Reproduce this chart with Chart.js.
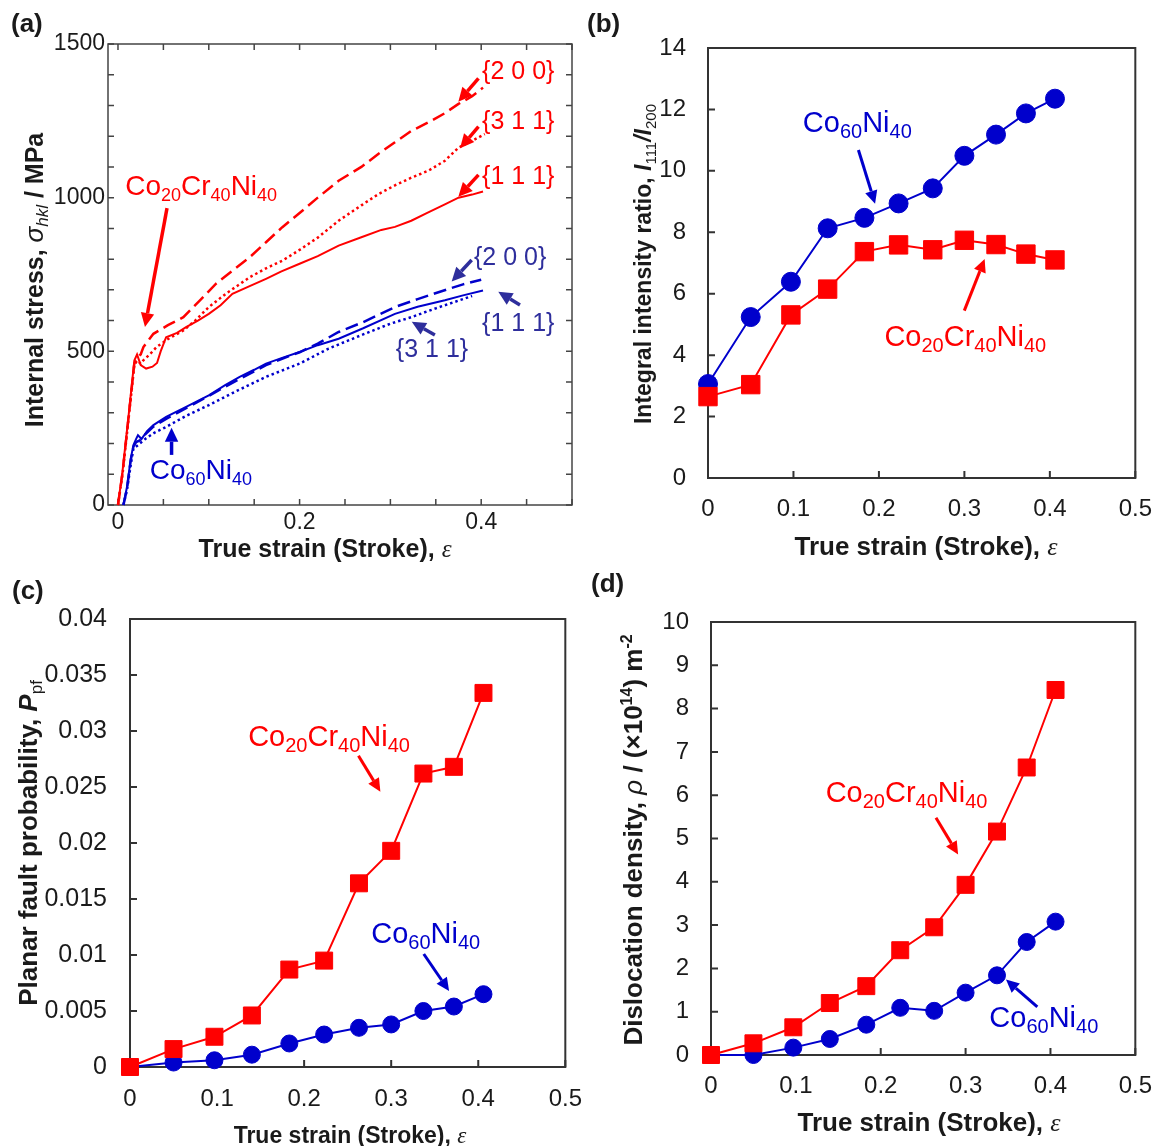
<!DOCTYPE html>
<html>
<head>
<meta charset="utf-8">
<script src="https://cdn.jsdelivr.net/npm/chart.js@4.4.1/dist/chart.umd.min.js"></script>
<style>
  body { margin: 0; background: #fff; }
  #page { position: relative; width: 1169px; height: 1146px; overflow: hidden; background: #fff; }
  .panel { position: absolute; }
</style>
</head>
<body>
<div id="page">
  <div class="panel" style="left:0;top:0"><canvas id="chartA" width="590" height="570"></canvas></div>
  <div class="panel" style="left:580px;top:0"><canvas id="chartB" width="589" height="570"></canvas></div>
  <div class="panel" style="left:0;top:570px"><canvas id="chartC" width="600" height="576"></canvas></div>
  <div class="panel" style="left:580px;top:570px"><canvas id="chartD" width="589" height="576"></canvas></div>
</div>
<script>
// ---- (a) internal stress vs strain ----
const strainCrNi200 = [0, 0.005, 0.012, 0.018, 0.021, 0.025, 0.028, 0.039, 0.055, 0.072, 0.09, 0.108, 0.125, 0.145, 0.163, 0.181, 0.2, 0.22, 0.243, 0.268, 0.287, 0.305, 0.323, 0.345, 0.36, 0.375, 0.39, 0.402];
const stressCrNi200 = [0, 105, 295, 460, 480, 490, 514, 557, 585, 611, 665, 720, 760, 806, 855, 904, 950, 1000, 1055, 1100, 1143, 1180, 1217, 1250, 1275, 1305, 1330, 1358];
const strainCrNi311 = [0, 0.005, 0.012, 0.018, 0.021, 0.025, 0.028, 0.035, 0.0425, 0.055, 0.072, 0.085, 0.1, 0.12, 0.145, 0.163, 0.181, 0.2, 0.22, 0.243, 0.268, 0.287, 0.305, 0.323, 0.342, 0.36, 0.375, 0.39, 0.404];
const stressCrNi311 = [0, 100, 290, 455, 470, 460, 471, 490, 514, 540, 568, 600, 644, 690, 741, 770, 795, 830, 870, 925, 975, 1012, 1040, 1065, 1088, 1120, 1163, 1185, 1207];
const strainCrNi111 = [0, 0.005, 0.012, 0.018, 0.021, 0.025, 0.031, 0.038, 0.043, 0.047, 0.053, 0.065, 0.075, 0.088, 0.1, 0.113, 0.126, 0.145, 0.163, 0.18, 0.2, 0.22, 0.243, 0.268, 0.29, 0.305, 0.323, 0.34, 0.36, 0.375, 0.39, 0.402];
const stressCrNi111 = [0, 110, 300, 470, 490, 455, 444, 450, 462, 500, 546, 560, 579, 600, 622, 650, 687, 712, 736, 760, 785, 810, 844, 871, 895, 905, 925, 950, 978, 1000, 1010, 1020];
const strainNi200 = [0.006, 0.01, 0.014, 0.017, 0.02, 0.024, 0.03, 0.039, 0.053, 0.075, 0.1, 0.118, 0.134, 0.15, 0.163, 0.18, 0.2, 0.22, 0.243, 0.27, 0.305, 0.33, 0.364, 0.38, 0.4];
const stressNi200 = [0, 55, 145, 190, 205, 210, 230, 255, 280, 315, 355, 385, 410, 435, 455, 475, 497, 525, 563, 595, 644, 670, 703, 718, 733];
const strainNi111 = [0.006, 0.01, 0.014, 0.017, 0.02, 0.022, 0.026, 0.032, 0.039, 0.053, 0.075, 0.1, 0.118, 0.134, 0.15, 0.163, 0.18, 0.2, 0.22, 0.243, 0.27, 0.305, 0.33, 0.36, 0.38, 0.402];
const stressNi111 = [0, 60, 150, 195, 215, 227, 215, 240, 260, 287, 319, 357, 390, 417, 440, 460, 478, 498, 520, 541, 575, 622, 645, 666, 682, 698];
const strainNi311 = [0.006, 0.01, 0.014, 0.017, 0.022, 0.03, 0.04, 0.053, 0.075, 0.1, 0.13, 0.163, 0.2, 0.232, 0.27, 0.3, 0.323, 0.35, 0.375, 0.39];
const stressNi311 = [0, 50, 130, 184, 195, 215, 235, 254, 290, 325, 370, 417, 460, 509, 555, 590, 611, 640, 665, 680];

// ---- (b)-(d) measured points ----
const strain = [0, 0.05, 0.097, 0.14, 0.183, 0.223, 0.263, 0.3, 0.337, 0.372, 0.406];
const ratioCoNi = [3.06, 5.24, 6.39, 8.13, 8.47, 8.94, 9.43, 10.49, 11.18, 11.87, 12.35];
const ratioCoCrNi = [2.65, 3.04, 5.31, 6.15, 7.37, 7.59, 7.43, 7.74, 7.6, 7.29, 7.1];
const faultCoNi = [0, 0.0004, 0.0006, 0.0011, 0.0021, 0.0029, 0.0035, 0.0038, 0.005, 0.0054, 0.0065];
const faultCoCrNi = [0, 0.0016, 0.0027, 0.0046, 0.0087, 0.0095, 0.0164, 0.0193, 0.0262, 0.0268, 0.0334];
const densCoNi = [0, 0, 0.17, 0.37, 0.7, 1.09, 1.02, 1.44, 1.84, 2.61, 3.08];
const densCoCrNi = [0, 0.27, 0.64, 1.2, 1.59, 2.42, 2.95, 3.93, 5.16, 6.64, 8.43];

// ---- ticks ----
const ticksA_x = [0, 0.05, 0.1, 0.15, 0.2, 0.25, 0.3, 0.35, 0.4, 0.45, 0.5];
const labelsA_x = [0, 0.2, 0.4];
const ticksA_y = [0, 100, 200, 300, 400, 500, 600, 700, 800, 900, 1000, 1100, 1200, 1300, 1400, 1500];
const labelsA_y = [0, 500, 1000, 1500];
const ticksStrain = [0, 0.1, 0.2, 0.3, 0.4, 0.5];
const ticksRatio = [0, 2, 4, 6, 8, 10, 12, 14];
const ticksFault = [0, 0.005, 0.01, 0.015, 0.02, 0.025, 0.03, 0.035, 0.04];
const ticksDens = [0, 1, 2, 3, 4, 5, 6, 7, 8, 9, 10];

const FONT = '"Liberation Sans", Arial, Helvetica, sans-serif';
const SERIF = '"Liberation Serif", "Times New Roman", serif';
const RED = '#ff0000';
const BLUE = '#0000cc';
const NAVY = '#2e2e9c';
const INK = '#1a1a1a';

// text made of pieces with their own font and baseline shift
function drawRich(ctx, parts, x, y, color, align, rot) {
  ctx.save();
  ctx.translate(x, y);
  if (rot) ctx.rotate(rot);
  ctx.textAlign = 'left';
  ctx.textBaseline = 'alphabetic';
  let w = 0;
  parts.forEach(p => { ctx.font = p.f; w += ctx.measureText(p.t).width; });
  let cx = align === 'center' ? -w / 2 : 0;
  parts.forEach(p => {
    ctx.font = p.f;
    ctx.fillStyle = color;
    ctx.fillText(p.t, cx, p.dy || 0);
    cx += ctx.measureText(p.t).width;
  });
  ctx.restore();
}

// Co20Cr40Ni40 -> letters normal, numbers as subscripts
function chem(text, size, sub) {
  const parts = [];
  text.replace(/([A-Za-z]+)|(\d+)/g, (m, w, d) => {
    if (w) parts.push({ t: w, f: size + 'px ' + FONT });
    else parts.push({ t: d, f: sub + 'px ' + FONT, dy: Math.round(size * 0.22) });
  });
  return parts;
}

function plain(text, size) {
  return [{ t: text, f: size + 'px ' + FONT }];
}

function strainTitle(size) {
  return [
    { t: 'True strain (Stroke), ', f: 'bold ' + size + 'px ' + FONT },
    { t: 'ε', f: 'italic ' + size + 'px ' + SERIF }
  ];
}

function arrow(ctx, x1, y1, x2, y2, color, lw, head) {
  const ang = Math.atan2(y2 - y1, x2 - x1);
  const bx = x2 - head * Math.cos(ang), by = y2 - head * Math.sin(ang);
  const hw = head * 0.48;
  ctx.save();
  ctx.strokeStyle = color;
  ctx.fillStyle = color;
  ctx.lineWidth = lw;
  ctx.beginPath();
  ctx.moveTo(x1, y1);
  ctx.lineTo(bx, by);
  ctx.stroke();
  ctx.beginPath();
  ctx.moveTo(x2, y2);
  ctx.lineTo(bx + hw * Math.sin(ang), by - hw * Math.cos(ang));
  ctx.lineTo(bx - hw * Math.sin(ang), by + hw * Math.cos(ang));
  ctx.closePath();
  ctx.fill();
  ctx.restore();
}

// box round the plot with inward tick marks
const frame = {
  id: 'frame',
  beforeDatasetsDraw(chart, args, o) {
    const { ctx, chartArea: a, scales: { x, y } } = chart;
    ctx.save();
    ctx.strokeStyle = o.color;
    ctx.lineWidth = o.lw;
    ctx.strokeRect(a.left, a.top, a.right - a.left, a.bottom - a.top);
    ctx.beginPath();
    x.ticks.forEach(t => {
      const px = x.getPixelForValue(t.value);
      ctx.moveTo(px, a.bottom); ctx.lineTo(px, a.bottom - o.len);
      if (o.mirror) { ctx.moveTo(px, a.top); ctx.lineTo(px, a.top + o.len); }
    });
    y.ticks.forEach(t => {
      const py = y.getPixelForValue(t.value);
      ctx.moveTo(a.left, py); ctx.lineTo(a.left + o.len, py);
      if (o.mirror) { ctx.moveTo(a.right, py); ctx.lineTo(a.right - o.len, py); }
    });
    ctx.stroke();
    ctx.restore();
  }
};

// labels, arrows and axis titles
const notes = {
  id: 'notes',
  afterDatasetsDraw(chart, args, o) {
    const { ctx, scales: { x, y } } = chart;
    (o.labels || []).forEach(l => {
      drawRich(ctx, l.parts, x.getPixelForValue(l.x), y.getPixelForValue(l.y), l.color, 'left', 0);
    });
    (o.arrows || []).forEach(r => {
      arrow(ctx, x.getPixelForValue(r[0]), y.getPixelForValue(r[1]),
        x.getPixelForValue(r[2]), y.getPixelForValue(r[3]), r[4], o.arrowWidth, o.head);
    });
    (o.titles || []).forEach(t => {
      drawRich(ctx, t.parts, t.x, t.y, INK, t.align || 'center', t.rot || 0);
    });
  }
};

function axis(min, max, ticks, shown, size, pad, fit, fitSize) {
  return {
    type: 'linear',
    min: min,
    max: max,
    grid: { display: false, drawTicks: false },
    border: { display: false },
    afterBuildTicks: s => { s.ticks = ticks.map(v => ({ value: v })); },
    afterFit: s => { s[fit] = fitSize; },
    ticks: {
      padding: pad,
      color: INK,
      font: { family: FONT, size: size },
      callback: v => (shown.includes(v) ? String(v) : '')
    }
  };
}

function curve(xs, ys, color, dash, width) {
  return {
    data: xs.map((v, i) => ({ x: v, y: ys[i] })),
    borderColor: color,
    borderWidth: width,
    borderDash: dash,
    pointRadius: 0,
    showLine: true,
    tension: 0,
    clip: false
  };
}

function series(ys, color, style, radius) {
  return {
    data: strain.map((v, i) => ({ x: v, y: ys[i] })),
    borderColor: color,
    backgroundColor: color,
    borderWidth: 2,
    pointStyle: style,
    pointRadius: radius,
    pointBorderWidth: 1,
    pointBorderColor: color,
    showLine: true,
    tension: 0,
    clip: false
  };
}

function makeChart(id, datasets, pad, xAxis, yAxis, frameOpts, noteOpts) {
  return new Chart(document.getElementById(id), {
    type: 'scatter',
    data: { datasets: datasets },
    options: {
      responsive: false,
      animation: false,
      events: [],
      layout: { padding: pad },
      scales: { x: xAxis, y: yAxis },
      plugins: {
        legend: { display: false },
        tooltip: { enabled: false },
        frame: frameOpts,
        notes: noteOpts
      }
    },
    plugins: [frame, notes]
  });
}

// ---------------- (a) ----------------
makeChart('chartA', [
  curve(strainCrNi200, stressCrNi200, RED, [13, 6], 2.5),
  curve(strainCrNi311, stressCrNi311, RED, [2.5, 3], 2.5),
  curve(strainCrNi111, stressCrNi111, RED, [], 2),
  curve(strainNi200, stressNi200, BLUE, [13, 6], 2.5),
  curve(strainNi311, stressNi311, BLUE, [2.5, 3], 2.5),
  curve(strainNi111, stressNi111, BLUE, [], 2)
], { left: 0, top: 44, right: 18, bottom: 25 },
  axis(-0.011, 0.5, ticksA_x, labelsA_x, 23, 4, 'height', 40),
  axis(0, 1500, ticksA_y, labelsA_y, 23, 3, 'width', 108),
  { color: '#444', lw: 1.5, len: 6, mirror: true },
  {
    arrowWidth: 3.5, head: 14,
    labels: [
      { x: 0.008, y: 1010, parts: chem('Co20Cr40Ni40', 28, 18), color: RED },
      { x: 0.035, y: 86, parts: chem('Co60Ni40', 28, 18), color: BLUE },
      { x: 0.401, y: 1386, parts: plain('{2 0 0}', 25), color: RED },
      { x: 0.401, y: 1224, parts: plain('{3 1 1}', 25), color: RED },
      { x: 0.401, y: 1045, parts: plain('{1 1 1}', 25), color: RED },
      { x: 0.392, y: 781, parts: plain('{2 0 0}', 25), color: NAVY },
      { x: 0.401, y: 566, parts: plain('{1 1 1}', 25), color: NAVY },
      { x: 0.306, y: 482, parts: plain('{3 1 1}', 25), color: NAVY }
    ],
    arrows: [
      [0.054, 966, 0.0297, 579, RED],
      [0.059, 163, 0.059, 251, BLUE],
      [0.397, 1388, 0.3748, 1312, RED],
      [0.397, 1231, 0.3767, 1161, RED],
      [0.397, 1074, 0.3748, 1003, RED],
      [0.3895, 797, 0.3675, 727, NAVY],
      [0.4427, 651, 0.4188, 694, NAVY],
      [0.349, 553, 0.3235, 596, NAVY]
    ],
    titles: [
      { x: 11, y: 32, align: 'left', parts: [{ t: '(a)', f: 'bold 26px ' + FONT }] },
      { x: 325, y: 557, parts: strainTitle(25) },
      { x: 43, y: 280, rot: -Math.PI / 2, parts: [
        { t: 'Internal stress, ', f: 'bold 25px ' + FONT },
        { t: 'σ', f: 'italic 26px ' + FONT },
        { t: 'hkl', f: 'italic 17px ' + FONT, dy: 5 },
        { t: ' / MPa', f: 'bold 25px ' + FONT }
      ] }
    ]
  });

// ---------------- (b) ----------------
makeChart('chartB', [
  series(ratioCoCrNi, RED, 'rect', 13),
  series(ratioCoNi, BLUE, 'circle', 9.5)
], { left: 0, top: 48, right: 28, bottom: 52 },
  axis(0, 0.5, ticksStrain, ticksStrain, 24, 17, 'height', 40),
  axis(0, 14, ticksRatio, ticksRatio, 24, 22, 'width', 128),
  { color: '#333', lw: 2, len: 7, mirror: false },
  {
    arrowWidth: 3, head: 13,
    labels: [
      { x: 0.111, y: 11.27, parts: chem('Co60Ni40', 29, 20), color: BLUE },
      { x: 0.2064, y: 4.3, parts: chem('Co20Cr40Ni40', 29, 20), color: RED }
    ],
    arrows: [
      [0.176, 10.68, 0.1955, 8.93, BLUE],
      [0.2999, 5.45, 0.3237, 7.13, RED]
    ],
    titles: [
      { x: 7, y: 32, align: 'left', parts: [{ t: '(b)', f: 'bold 26px ' + FONT }] },
      { x: 346, y: 555, parts: strainTitle(26) },
      { x: 71, y: 264, rot: -Math.PI / 2, parts: [
        { t: 'Integral intensity ratio, ', f: 'bold 23px ' + FONT },
        { t: 'I', f: 'bold italic 23px ' + FONT },
        { t: '111', f: '15px ' + FONT, dy: 5 },
        { t: '/', f: 'bold italic 23px ' + FONT },
        { t: 'I', f: 'bold italic 23px ' + FONT },
        { t: '200', f: '15px ' + FONT, dy: 5 }
      ] }
    ]
  });

// ---------------- (c) ----------------
makeChart('chartC', [
  series(faultCoCrNi, RED, 'rect', 12),
  series(faultCoNi, BLUE, 'circle', 8.5)
], { left: 0, top: 49, right: 28, bottom: 39 },
  axis(0, 0.5, ticksStrain, ticksStrain, 24, 18, 'height', 40),
  axis(0, 0.04, ticksFault, ticksFault, 25, 23, 'width', 130),
  { color: '#333', lw: 2, len: 7, mirror: false },
  {
    arrowWidth: 3, head: 13,
    labels: [
      { x: 0.1357, y: 0.02862, parts: chem('Co20Cr40Ni40', 29, 20), color: RED },
      { x: 0.2771, y: 0.01107, parts: chem('Co60Ni40', 29, 20), color: BLUE }
    ],
    arrows: [
      [0.2624, 0.02779, 0.2876, 0.02458, RED],
      [0.3374, 0.01009, 0.3665, 0.00679, BLUE]
    ],
    titles: [
      { x: 12, y: 29, align: 'left', parts: [{ t: '(c)', f: 'bold 26px ' + FONT }] },
      { x: 350, y: 573, parts: strainTitle(23) },
      { x: 37, y: 273, rot: -Math.PI / 2, parts: [
        { t: 'Planar fault probability, ', f: 'bold 26px ' + FONT },
        { t: 'P', f: 'bold italic 26px ' + FONT },
        { t: 'pf', f: '17px ' + FONT, dy: 5 }
      ] }
    ]
  });

// ---------------- (d) ----------------
makeChart('chartD', [
  series(densCoCrNi, RED, 'rect', 12),
  series(densCoNi, BLUE, 'circle', 8.5)
], { left: 0, top: 52, right: 25, bottom: 51 },
  axis(0, 0.5, ticksStrain, ticksStrain, 24, 17, 'height', 40),
  axis(0, 10, ticksDens, ticksDens, 24, 22, 'width', 131),
  { color: '#333', lw: 2, len: 7, mirror: false },
  {
    arrowWidth: 3, head: 13,
    labels: [
      { x: 0.1351, y: 5.85, parts: chem('Co20Cr40Ni40', 29, 20), color: RED },
      { x: 0.328, y: 0.647, parts: chem('Co60Ni40', 29, 20), color: BLUE }
    ],
    arrows: [
      [0.2651, 5.48, 0.2912, 4.63, RED],
      [0.3845, 1.11, 0.3476, 1.743, BLUE]
    ],
    titles: [
      { x: 11, y: 22, align: 'left', parts: [{ t: '(d)', f: 'bold 26px ' + FONT }] },
      { x: 349, y: 561, parts: strainTitle(26) },
      { x: 62, y: 270, rot: -Math.PI / 2, parts: [
        { t: 'Dislocation density, ', f: 'bold 26px ' + FONT },
        { t: 'ρ', f: 'italic 26px ' + FONT },
        { t: ' / (×10', f: 'bold 26px ' + FONT },
        { t: '14', f: 'bold 16px ' + FONT, dy: -10 },
        { t: ') m', f: 'bold 26px ' + FONT },
        { t: '-2', f: 'bold 16px ' + FONT, dy: -10 }
      ] }
    ]
  });
</script>
</body>
</html>
